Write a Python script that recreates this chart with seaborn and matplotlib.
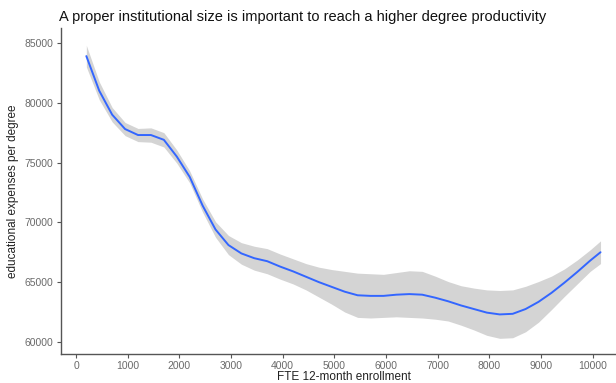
import numpy as np
import pandas as pd
import matplotlib
matplotlib.use("Agg")
import matplotlib.pyplot as plt
import seaborn as sns

# Smoothed fit of educational expenses per degree vs. FTE enrollment
enrollment = [200, 450, 700, 950, 1200, 1450, 1700, 1950, 2200, 2450, 2700, 2950,
              3200, 3450, 3700, 3950, 4200, 4450, 4700, 4950, 5200, 5450, 5700,
              5950, 6200, 6450, 6700, 6950, 7200, 7450, 7700, 7950, 8200, 8450,
              8700, 8950, 9200, 9450, 9700, 9950, 10150]
expenses = [83900, 81000, 79000, 77800, 77300, 77300, 76900, 75500, 73800, 71400,
            69400, 68100, 67400, 67000, 66750, 66300, 65900, 65450, 65000, 64600,
            64200, 63900, 63850, 63850, 63950, 64000, 63950, 63700, 63400, 63050,
            62750, 62450, 62300, 62350, 62750, 63350, 64100, 64950, 65850, 66800,
            67500]
band = [900, 750, 600, 550, 550, 600, 600, 550, 500, 550, 650, 800, 900, 1000,
        1050, 1050, 1050, 1100, 1250, 1450, 1700, 1850, 1850, 1800, 1850, 1950,
        1950, 1800, 1650, 1650, 1750, 1900, 2000, 2000, 1900, 1700, 1400, 1150,
        1000, 900, 950]

df = pd.DataFrame({"enrollment": enrollment, "expenses": expenses, "band": band})
df["lower"] = df["expenses"] - df["band"]
df["upper"] = df["expenses"] + df["band"]

sns.set_theme(style="ticks")
plt.rcParams["font.family"] = ["Liberation Sans", "DejaVu Sans"]

fig = plt.figure(figsize=(6.16, 3.83), dpi=100)
# panel runs slightly past the right edge of the canvas
ax = fig.add_axes([60.5 / 616, 1 - 354 / 383, (627.5 - 60.5) / 616, (354 - 28) / 383])

ax.fill_between(df["enrollment"], df["lower"], df["upper"],
                color="#d4d4d4", linewidth=0, zorder=1)
sns.lineplot(data=df, x="enrollment", y="expenses", ax=ax,
             color="#3366FF", linewidth=1.4, zorder=2)

ax.set_xlim(-300, 10672)
ax.set_ylim(58990, 86250)
ax.set_xticks(range(0, 10001, 1000))
ax.set_yticks(range(60000, 85001, 5000))

for side in ["top", "right"]:
    ax.spines[side].set_visible(False)
for side in ["left", "bottom"]:
    ax.spines[side].set_color("#555555")
    ax.spines[side].set_linewidth(1.0)
ax.tick_params(axis="both", colors="#555555", labelcolor="#6a6a6a",
               labelsize=7.5, length=3, width=0.8, pad=2)

ax.set_xlabel("FTE 12-month enrollment", fontsize=8.5, color="#222222", labelpad=0)
ax.set_ylabel("educational expenses per degree", fontsize=8.5, color="#222222", labelpad=4)
fig.text(59 / 616, 1 - 16.5 / 383,
         "A proper institutional size is important to reach a higher degree productivity",
         fontsize=10.5, color="#111111", ha="left", va="center")

fig.savefig("out.png", dpi=100)
